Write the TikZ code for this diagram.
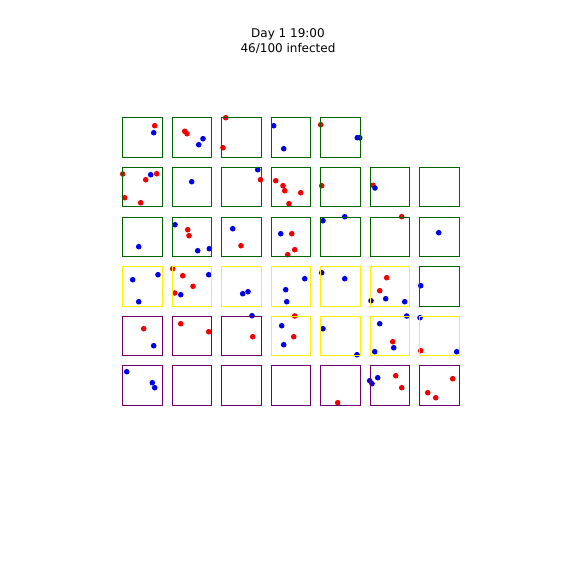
\documentclass[tikz,border=0pt]{standalone}
\usepackage{fontspec}
\setmainfont{DejaVu Sans}
\definecolor{bgreen}{RGB}{0,100,0}
\definecolor{byellow}{RGB}{255,240,0}
\definecolor{bpurple}{RGB}{110,0,110}
\definecolor{dred}{RGB}{240,0,0}
\definecolor{dblue}{RGB}{0,0,230}
\tikzset{
  cell/.style={draw, line width=0.9pt, minimum width=39.5pt, minimum height=39.5pt, inner sep=0pt, anchor=north west},
}
\begin{document}
\begin{tikzpicture}[x=1pt,y=-1pt]
\useasboundingbox (0,0) rectangle (576,576);
\node[font=\fontsize{12}{15}\selectfont, align=center] (title) at (288,41.5) {Day 1 19:00\\46/100 infected};
% dots (drawn below the boxes)
\foreach \x/\y in {154.7/125.7, 184.7/131.3, 187/133.7, 225.7/117.7, 223/147.7, 320.7/124.7,
  122.7/174, 156.7/173.7, 145.7/179.7, 124.7/197.7, 140.7/202.7, 260.5/179.7,
  275.7/180.7, 283/185.7, 284.7/190.7, 300.7/192.7, 289/203.7, 321.7/185.7, 373/185.3,
  187.7/229.7, 189/235.7, 241/245.7, 291.7/233.7, 294.7/249.7, 287.7/254.7, 401.7/216.7,
  172.7/268.7, 182.7/275.7, 193/286.3, 174.7/293, 386.7/277.7, 379.7/290.7,
  143.7/328.7, 180.7/323.7, 208.7/331.7, 252.7/336.7, 294.7/316, 293.7/336.7, 392.7/341.7, 420.7/350.7,
  337.7/402.7, 395.7/375.7, 401.7/387.7, 452.7/378.7, 427.7/392.7, 435.7/397.7}
  \fill[dred] (\x,\y) circle (2.8);
\foreach \x/\y in {153.7/132.7, 203/138.7, 198.7/144.7, 273.7/125.7, 283.7/148.7, 357.3/137.7, 359.7/137.7,
  150.7/174.7, 191.7/181.7, 257.7/169.7, 375/188,
  138.7/246.7, 175/224.7, 197.7/250.7, 209.3/248.7, 232.7/228.7, 280.7/233.7, 323/220.7, 344.7/216.7, 438.7/232.7,
  132.7/279.7, 158/274.7, 138.7/301.7, 208.7/274.7, 180.7/294.7, 242.7/293.7, 248/291.7,
  304.7/278.7, 285.7/289.7, 286.7/301.7, 321.7/272.7, 344.7/278.7, 385.7/298.7, 371/300.7, 404.7/301.7, 420.7/285.7,
  153.7/345.7, 252/315.7, 281.7/325.7, 283.7/344.7, 323/328.7, 357/354.7, 406.7/316, 379.7/323.7, 393.7/347.7, 374.7/351.7,
  420/317.7, 456.7/351.7,
  126.7/371.7, 152.3/382.7, 154.7/387.7, 369.7/380.7, 372/383.7, 377.7/377.7}
  \fill[dblue] (\x,\y) circle (2.8);
% boxes
\foreach \r/\c/\col in {1/1/bgreen,1/2/bgreen,1/3/bgreen,1/4/bgreen,1/5/bgreen,
  2/1/bgreen,2/2/bgreen,2/3/bgreen,2/4/bgreen,2/5/bgreen,2/6/bgreen,2/7/bgreen,
  3/1/bgreen,3/2/bgreen,3/3/bgreen,3/4/bgreen,3/5/bgreen,3/6/bgreen,3/7/bgreen,
  4/1/byellow,4/2/byellow,4/3/byellow,4/4/byellow,4/5/byellow,4/6/byellow,4/7/bgreen,
  5/1/bpurple,5/2/bpurple,5/3/bpurple,5/4/byellow,5/5/byellow,5/6/byellow,5/7/byellow,
  6/1/bpurple,6/2/bpurple,6/3/bpurple,6/4/bpurple,6/5/bpurple,6/6/bpurple,6/7/bpurple}
  \node[cell, draw=\col] (b\r-\c) at ({122.3+49.5*(\c-1)},{117.3+49.6*(\r-1)}) {};
\end{tikzpicture}
\end{document}
